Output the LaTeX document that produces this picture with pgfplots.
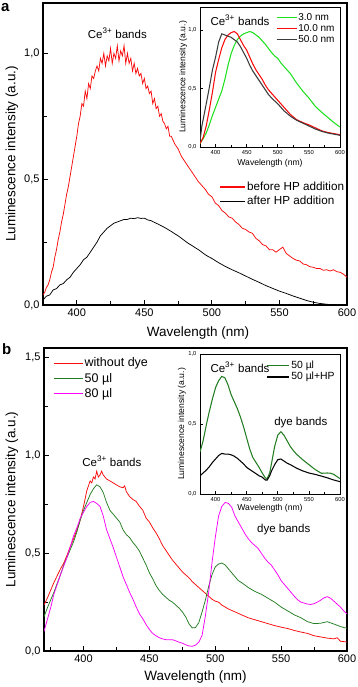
\documentclass[border=0pt]{standalone}
\usepackage{pgfplots}
\pgfplotsset{compat=1.18}
\usepackage{fontspec}
\setmainfont{Liberation Sans}
\definecolor{cred}{RGB}{250,10,10}
\definecolor{cgreenA}{RGB}{30,225,30}
\definecolor{cgreenB}{RGB}{35,125,35}
\definecolor{cmag}{RGB}{250,0,250}
\definecolor{cgrey}{RGB}{60,60,60}
\newcommand{\mainlab}{\fontsize{13.5}{15}\selectfont}
\newcommand{\insetlab}{\fontsize{8.6}{10}\selectfont}
\pgfplotsset{
  common/.style={scale only axis, clip=true,
    xtick pos=bottom, ytick pos=left, tick align=inside,
    /pgf/number format/assume math mode=true,
    xticklabel style={/pgf/number format/1000 sep={}},
    yticklabel style={/pgf/number format/.cd, fixed, fixed zerofill, precision=1, use comma},
    tick style={black},
    axis background/.style={fill=white},
    every axis plot/.append style={line width=0.75pt},
  },
  mainax/.style={common, width=304pt, height=302pt,
    axis line style={line width=1.1pt},
    major tick style={line width=0.9pt}, minor tick style={line width=0.9pt},
    major tick length=5pt, minor tick length=3.5pt,
    ticklabel style={font=\fontsize{11}{13}\selectfont},
    ylabel={\mainlab Luminescence intensity (a.u.)},
    xlabel={\mainlab Wavelength (nm)},
  },
  insetax/.style={common, width=140pt, height=140pt,
    axis line style={line width=0.9pt},
    major tick style={line width=0.6pt}, minor tick style={line width=0.6pt},
    major tick length=2.5pt, minor tick length=1.5pt,
    ticklabel style={font=\fontsize{5.8}{7}\selectfont},
    ylabel={\insetlab Luminescence intensity (a.u.)},
    xlabel={\insetlab Wavelength (nm)},
    xmin=375, xmax=600, xtick={400,450,...,600}, minor xtick={425,475,...,575},
    every axis plot/.append style={line width=1.05pt},
  },
}
\begin{document}
\begin{tikzpicture}
\useasboundingbox (0pt,0pt) rectangle (358pt,687pt);
% ---------------- panel a ----------------
\begin{axis}[mainax, at={(43pt,382pt)}, anchor=south west,
  xmin=375, xmax=600, ymin=0, ymax=1.2,
  xtick={400,450,...,600}, minor xtick={375,425,...,575},
  ytick={0,0.5,1.0}, minor ytick={0.25,0.75},
  every axis y label/.style={at={(axis description cs:-0.102,0.5)}, rotate=90, anchor=center},
  every axis x label/.style={at={(axis description cs:0.51,-0.093)}, anchor=center},
  legend style={draw=none, fill=none, at={(axis description cs:0.995,0.412)}, anchor=north east,
    font=\fontsize{11.7}{13}\selectfont, row sep=2pt, inner sep=0pt,
    nodes={inner sep=1.2pt}},
  legend cell align=left,
  legend image code/.code={\draw[#1, line width=1.2pt] (0pt,0pt) -- (25pt,0pt);},
]
\addplot[cred] coordinates {
(375,0.04)(376.25,0.05)(377.5,0.07)(378.75,0.08)(380,0.10)(381.25,0.13)(382.5,0.15)(383.75,0.19)
(385,0.22)(386.25,0.26)(387.5,0.29)(388.75,0.33)(390,0.36)(391.25,0.40)(392.5,0.44)(393.75,0.47)
(395,0.51)(396.25,0.55)(397.5,0.59)(398.75,0.63)(400,0.67)(401.25,0.72)(402.5,0.75)(403.75,0.80)
(405,0.79)(406.25,0.85)(407.5,0.82)(408.75,0.88)(410,0.86)(411.25,0.91)(412.5,0.90)(413.75,0.93)
(415,0.95)(416.25,0.93)(417.5,0.98)(418.75,0.96)(420,1.00)(421.25,0.95)(422.5,0.99)(423.75,0.97)
(425,1.02)(426.25,0.96)(427.5,1.00)(428.75,0.98)(430,1.03)(431.25,0.97)(432.5,1.01)(433.75,0.99)
(435,1.03)(436.25,0.96)(437.5,1.00)(438.75,0.96)(440,0.98)(441.25,0.93)(442.5,0.96)(443.75,0.92)
(445,0.94)(446.25,0.91)(447.5,0.92)(448.75,0.88)(450,0.90)(451.25,0.86)(452.5,0.87)(453.75,0.84)
(455,0.85)(456.25,0.80)(457.5,0.82)(458.75,0.78)(460,0.79)(461.25,0.75)(462.5,0.76)(463.75,0.73)
(465,0.72)(466.25,0.70)(467.5,0.71)(468.75,0.67)(470,0.67)(472.5,0.64)(475,0.62)(477.5,0.59)
(480,0.57)(482.5,0.55)(485,0.53)(487.5,0.51)(490,0.49)(492.5,0.475)(495,0.46)(497.5,0.44)
(500,0.43)(502.5,0.405)(505,0.395)(507.5,0.375)(510,0.365)(512.5,0.35)(515,0.345)(517.5,0.33)
(520,0.32)(522.5,0.305)(525,0.30)(527.5,0.29)(530,0.285)(532.5,0.265)(535,0.255)(537.5,0.24)
(540,0.235)(542.5,0.22)(545,0.22)(547.5,0.21)(550,0.22)(552.5,0.23)(555,0.205)(557.5,0.195)
(560,0.185)(562.5,0.178)(565,0.175)(567.5,0.163)(570,0.16)(572.5,0.152)(575,0.15)(577.5,0.145)
(580,0.145)(582.5,0.138)(585,0.14)(587.5,0.135)(590,0.14)(592.5,0.132)(595,0.13)(597.5,0.122)(600,0.11)
};
\addlegendentry{before HP addition}
\addplot[black] coordinates {
(375,0.02)(377.5,0.035)(380,0.04)(382.5,0.06)(385,0.065)(387.5,0.08)(390,0.085)(392.5,0.10)
(395,0.11)(397.5,0.13)(400,0.145)(402.5,0.16)(405,0.18)(407.5,0.19)(410,0.21)(412.5,0.23)
(415,0.25)(417.5,0.275)(420,0.29)(422.5,0.305)(425,0.315)(427.5,0.325)(430,0.33)(432.5,0.335)
(435,0.34)(437.5,0.34)(440,0.345)(442.5,0.343)(445,0.347)(447.5,0.344)(450,0.345)(452.5,0.338)
(455,0.335)(457.5,0.328)(460,0.322)(462.5,0.315)(465,0.308)(467.5,0.30)(470,0.292)(472.5,0.283)
(475,0.275)(477.5,0.265)(480,0.255)(482.5,0.245)(485,0.237)(487.5,0.228)(490,0.22)(492.5,0.21)
(495,0.20)(497.5,0.192)(500,0.185)(505,0.168)(510,0.153)(515,0.14)(520,0.128)(525,0.115)
(530,0.102)(535,0.09)(540,0.077)(545,0.066)(550,0.055)(555,0.046)(560,0.036)(565,0.027)
(570,0.018)(575,0.011)(580,0.006)(585,0.003)(590,0.0)(595,0.0)(600,0.0)
};
\addlegendentry{after HP addition}
\node[font=\fontsize{11.5}{13}\selectfont] at (axis cs:430,1.08) {Ce\textsuperscript{3+} bands};
\end{axis}
% ---------------- inset a ----------------
\begin{axis}[insetax, at={(200pt,540pt)}, anchor=south west,
  ymin=0, ymax=1.2, ytick={0,0.5,1.0},
  every axis y label/.style={at={(axis description cs:-0.12,0.5)}, rotate=90, anchor=center},
  every axis x label/.style={at={(axis description cs:0.5,-0.114)}, anchor=center},
  legend style={draw=none, fill=none, at={(axis description cs:0.97,0.965)}, anchor=north east,
    font=\fontsize{10}{11}\selectfont, row sep=0.3pt, inner sep=0pt, nodes={inner sep=1.1pt}},
  legend cell align=left,
  legend image code/.code={\draw[#1, line width=1.5pt] (0pt,0pt) -- (20pt,0pt);},
]
\addplot[cgreenA] coordinates {
(375,0.03)(380,0.07)(385,0.12)(390,0.19)(395,0.27)(400,0.34)(405,0.41)(410,0.48)(415,0.58)
(420,0.70)(425,0.80)(430,0.87)(435,0.92)(440,0.95)(445,0.97)(450,0.98)(455,0.99)(460,0.98)
(465,0.96)(470,0.94)(475,0.91)(480,0.88)(485,0.845)(490,0.81)(495,0.78)(500,0.76)(505,0.72)
(510,0.69)(515,0.66)(520,0.63)(525,0.59)(530,0.55)(540,0.48)(550,0.42)(560,0.35)(570,0.30)
(580,0.255)(590,0.21)(600,0.17)
};
\addlegendentry{3.0 nm}
\addplot[cred] coordinates {
(375,0.03)(380,0.08)(385,0.18)(390,0.32)(395,0.47)(400,0.64)(405,0.75)(410,0.85)(415,0.92)
(420,0.96)(425,0.98)(430,0.99)(435,0.97)(440,0.92)(445,0.87)(450,0.83)(455,0.77)(460,0.71)
(465,0.66)(470,0.62)(475,0.58)(480,0.53)(485,0.49)(490,0.46)(495,0.43)(500,0.40)(510,0.34)
(520,0.28)(530,0.235)(540,0.21)(550,0.19)(560,0.165)(570,0.14)(580,0.125)(590,0.115)(600,0.105)
};
\addlegendentry{10.0 nm}
\addplot[cgrey] coordinates {
(375,0.05)(378,0.18)(381,0.26)(385,0.37)(390,0.51)(395,0.66)(400,0.77)(405,0.90)(410,0.97)
(415,0.96)(420,0.95)(425,0.94)(430,0.92)(435,0.90)(440,0.86)(445,0.81)(450,0.76)(455,0.70)
(460,0.65)(465,0.61)(470,0.57)(475,0.53)(480,0.49)(485,0.45)(490,0.42)(500,0.37)(510,0.31)
(520,0.265)(530,0.23)(540,0.205)(550,0.18)(560,0.155)(570,0.135)(580,0.12)(590,0.11)(600,0.10)
};
\addlegendentry{50.0 nm}
\node[font=\fontsize{11.5}{13}\selectfont, anchor=west] at (axis description cs:0.05,0.905) {Ce\textsuperscript{3+} bands};
\end{axis}
% ---------------- panel b ----------------
\begin{axis}[mainax, at={(44pt,36pt)}, anchor=south west, width=303pt, height=303pt,
  xmin=370, xmax=600, ymin=0, ymax=1.55,
  xtick={400,450,...,600}, minor xtick={375,425,...,575},
  ytick={0,0.5,1.0,1.5}, minor ytick={0.25,0.75,1.25},
  every axis y label/.style={at={(axis description cs:-0.106,0.5)}, rotate=90, anchor=center},
  every axis x label/.style={at={(axis description cs:0.5,-0.086)}, anchor=center},
  legend style={draw=none, fill=none, at={(axis description cs:0.03,0.972)}, anchor=north west,
    font=\fontsize{12.5}{14}\selectfont, row sep=2.2pt, inner sep=0pt, nodes={inner sep=1.2pt}},
  legend cell align=left,
  legend image code/.code={\draw[#1, line width=1.2pt] (0pt,0pt) -- (29pt,0pt);},
]
\addplot[cred] coordinates {
(370,0.235)(372.5,0.27)(375,0.31)(377.5,0.35)(380,0.385)(382.5,0.42)(385,0.45)(387.5,0.49)
(390,0.535)(392.5,0.575)(395,0.62)(397.5,0.67)(400,0.74)(402.5,0.82)(405,0.87)(406.25,0.86)(407.5,0.89)
(408.75,0.88)(410,0.92)(411.25,0.89)(412.5,0.90)(413.75,0.92)(415,0.90)(416.25,0.89)(417.5,0.88)
(420,0.87)(422.5,0.86)(425,0.85)(427.5,0.84)(430,0.835)(431.25,0.845)(432.5,0.815)(435,0.79)
(437.5,0.775)(440,0.765)(442.5,0.74)(445,0.72)(447.5,0.68)(450,0.66)(452.5,0.63)(455,0.605)
(457.5,0.575)(460,0.54)(462.5,0.515)(465,0.49)(467.5,0.465)(470,0.445)(472.5,0.425)(475,0.405)
(477.5,0.39)(480,0.375)(482.5,0.355)(485,0.34)(487.5,0.325)(490,0.31)(492.5,0.295)(495,0.28)
(497.5,0.265)(500,0.255)(502.5,0.25)(505,0.235)(507.5,0.225)(510,0.215)(515,0.20)(520,0.185)
(525,0.17)(530,0.16)(535,0.15)(540,0.14)(545,0.13)(550,0.122)(555,0.115)(560,0.105)(565,0.097)
(570,0.09)(575,0.078)(580,0.072)(585,0.066)(590,0.062)(592.5,0.068)(595,0.05)(600,0.046)
};
\addlegendentry{without dye}
\addplot[cgreenB] coordinates {
(370,0.175)(372.5,0.22)(375,0.26)(377.5,0.30)(380,0.345)(382.5,0.39)(385,0.44)(387.5,0.48)
(390,0.52)(392.5,0.56)(395,0.61)(397.5,0.67)(400,0.72)(402.5,0.76)(405,0.80)(407.5,0.83)
(410,0.85)(412.5,0.84)(415,0.81)(417.5,0.76)(420,0.72)(422.5,0.70)(425,0.68)(427.5,0.66)
(430,0.62)(432.5,0.595)(435,0.58)(437.5,0.555)(440,0.535)(442.5,0.51)(445,0.475)(447.5,0.44)
(450,0.40)(452.5,0.37)(455,0.335)(457.5,0.31)(460,0.29)(462.5,0.275)(465,0.26)(467.5,0.25)
(470,0.235)(472.5,0.22)(475,0.20)(477.5,0.175)(480,0.14)(482.5,0.118)(485,0.12)(487.5,0.145)
(490,0.20)(492.5,0.26)(495,0.33)(497.5,0.39)(500,0.43)(502.5,0.445)(505,0.45)(507.5,0.44)
(510,0.42)(512.5,0.40)(515,0.38)(517.5,0.36)(520,0.35)(525,0.325)(530,0.305)(535,0.29)
(540,0.27)(545,0.25)(550,0.225)(555,0.205)(560,0.185)(565,0.17)(570,0.15)(575,0.14)(580,0.142)
(585,0.15)(590,0.138)(595,0.125)(600,0.116)
};
\addlegendentry{50 µl}
\addplot[cmag] coordinates {
(370,0.10)(372.5,0.16)(375,0.22)(377.5,0.29)(380,0.34)(382.5,0.39)(385,0.435)(387.5,0.48)
(390,0.535)(392.5,0.59)(395,0.63)(397.5,0.68)(400,0.71)(402.5,0.74)(405,0.76)(407.5,0.765)
(410,0.755)(412.5,0.74)(415,0.69)(417.5,0.62)(420,0.575)(422.5,0.53)(425,0.48)(427.5,0.43)
(430,0.38)(432.5,0.34)(435,0.30)(437.5,0.265)(440,0.225)(442.5,0.19)(445,0.165)(447.5,0.135)
(450,0.11)(452.5,0.09)(455,0.078)(457.5,0.068)(460,0.062)(462.5,0.058)(465,0.057)(467.5,0.058)
(470,0.052)(472.5,0.045)(475,0.04)(477.5,0.032)(480,0.026)(482.5,0.024)(485,0.03)(487.5,0.045)
(490,0.08)(492.5,0.18)(495,0.30)(497.5,0.45)(500,0.58)(502.5,0.69)(505,0.74)(507.5,0.76)
(510,0.755)(512.5,0.735)(515,0.69)(517.5,0.66)(520,0.63)(522.5,0.60)(525,0.575)(527.5,0.555)
(530,0.54)(532.5,0.525)(535,0.50)(537.5,0.475)(540,0.455)(542.5,0.44)(545,0.415)(547.5,0.39)
(550,0.36)(552.5,0.34)(555,0.32)(557.5,0.30)(560,0.28)(562.5,0.262)(565,0.25)(567.5,0.245)
(570,0.24)(572.5,0.238)(575,0.242)(577.5,0.25)(580,0.26)(582.5,0.272)(585,0.278)(587.5,0.27)
(590,0.255)(592.5,0.24)(595,0.225)(597.5,0.205)(600,0.19)
};
\addlegendentry{80 µl}
\node[font=\fontsize{11.5}{13}\selectfont] at (axis cs:421.5,0.97) {Ce\textsuperscript{3+} bands};
\node[font=\fontsize{11.5}{13}\selectfont] at (axis cs:552,0.62) {dye bands};
\end{axis}
% ---------------- inset b ----------------
\begin{axis}[insetax, at={(200pt,193pt)}, anchor=south west,
  ymin=0, ymax=1.0, ytick={0,0.5,1.0},
  every axis y label/.style={at={(axis description cs:-0.13,0.5)}, rotate=90, anchor=center},
  every axis x label/.style={at={(axis description cs:0.5,-0.1)}, anchor=center},
  legend style={draw=none, fill=none, at={(axis description cs:0.475,0.96)}, anchor=north west,
    font=\fontsize{10.4}{12}\selectfont, row sep=0.3pt, inner sep=0pt, nodes={inner sep=1.1pt}},
  legend cell align=left,
  legend image code/.code={\draw[#1, line width=1.5pt] (0pt,0pt) -- (22pt,0pt);},
]
\addplot[cgreenB] coordinates {
(375,0.30)(380,0.38)(385,0.49)(390,0.59)(395,0.68)(400,0.76)(405,0.81)(410,0.84)(415,0.83)
(420,0.78)(425,0.71)(430,0.66)(435,0.61)(440,0.55)(445,0.48)(450,0.40)(455,0.32)(460,0.26)
(465,0.225)(470,0.19)(475,0.15)(480,0.115)(483,0.11)(487,0.15)(490,0.22)(495,0.34)(500,0.42)
(505,0.445)(510,0.42)(515,0.38)(520,0.34)(525,0.31)(530,0.285)(540,0.245)(550,0.21)(560,0.175)
(570,0.148)(580,0.15)(585,0.148)(590,0.14)(600,0.11)
};
\addlegendentry{50 µl}
\addplot[black] coordinates {
(375,0.13)(380,0.15)(385,0.17)(390,0.195)(395,0.225)(400,0.25)(405,0.275)(410,0.29)(415,0.285)
(420,0.285)(425,0.28)(430,0.27)(435,0.255)(440,0.235)(445,0.215)(450,0.19)(455,0.175)(460,0.16)
(465,0.145)(470,0.13)(475,0.12)(480,0.10)(483,0.10)(487,0.13)(490,0.165)(495,0.21)(500,0.245)
(505,0.25)(510,0.235)(515,0.22)(520,0.21)(530,0.185)(540,0.165)(550,0.15)(560,0.14)(570,0.128)
(580,0.115)(590,0.10)(600,0.088)
};
\addlegendentry{50 µl+HP}
\node[font=\fontsize{11.5}{13}\selectfont, anchor=west] at (axis description cs:0.05,0.905) {Ce\textsuperscript{3+} bands};
\node[font=\fontsize{11.5}{13}\selectfont] at (axis cs:537,0.51) {dye bands};
\end{axis}
% panel letters
\node[anchor=north west, inner sep=0pt, font=\fontsize{15}{17}\selectfont\bfseries] at (1pt,684pt) {a};
\node[anchor=north west, inner sep=0pt, font=\fontsize{15}{17}\selectfont\bfseries] at (2pt,344pt) {b};
\end{tikzpicture}
\end{document}
